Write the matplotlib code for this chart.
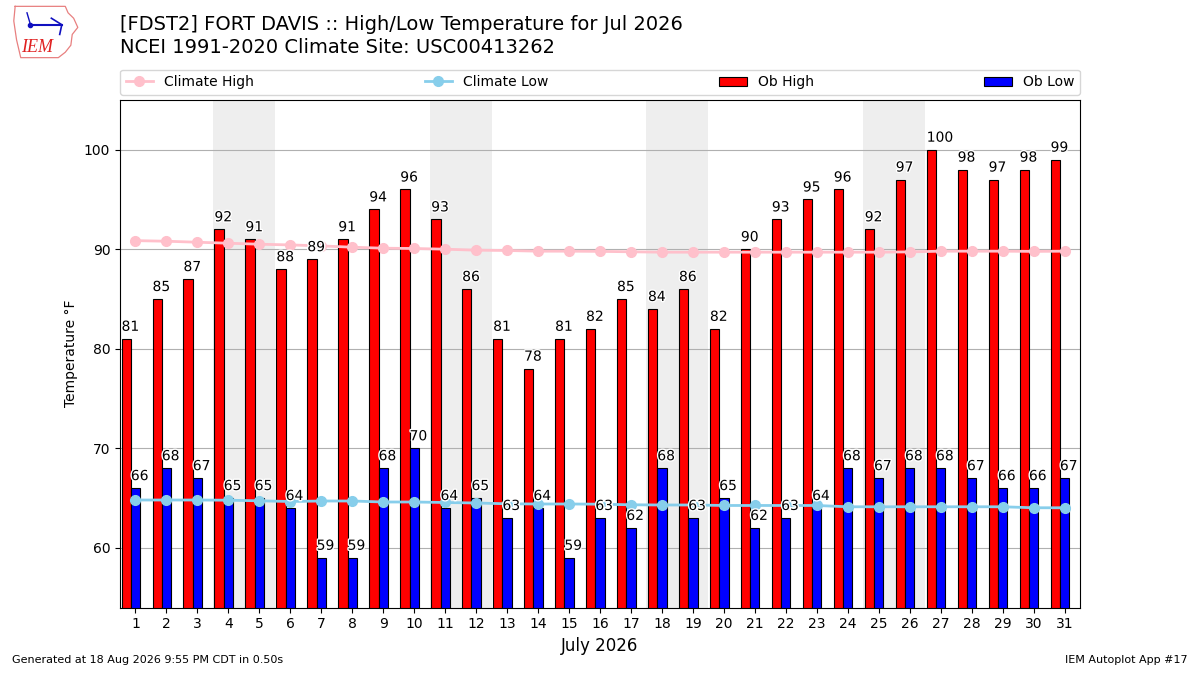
import matplotlib
matplotlib.use("Agg")
import matplotlib.pyplot as plt
import matplotlib.patheffects as pe
import numpy as np
import datetime

days = list(range(1, 32))
ob_high = [81, 85, 87, 92, 91, 88, 89, 91, 94, 96, 93, 86, 81, 78, 81, 82,
           85, 84, 86, 82, 90, 93, 95, 96, 92, 97, 100, 98, 97, 98, 99]
ob_low = [66, 68, 67, 65, 65, 64, 59, 59, 68, 70, 64, 65, 63, 64, 59, 63,
          62, 68, 63, 65, 62, 63, 64, 68, 67, 68, 68, 67, 66, 66, 67]
clim_high = [90.86, 90.8, 90.7, 90.6, 90.5, 90.43, 90.33, 90.2, 90.1, 90.07,
             90.0, 89.9, 89.87, 89.8, 89.8, 89.78, 89.74, 89.7, 89.7, 89.7,
             89.7, 89.7, 89.7, 89.7, 89.7, 89.73, 89.8, 89.8, 89.8, 89.78, 89.8]
clim_low = [64.8, 64.8, 64.8, 64.78, 64.72, 64.65, 64.7, 64.7, 64.6, 64.6,
            64.55, 64.5, 64.42, 64.4, 64.4, 64.38, 64.32, 64.3, 64.3, 64.25,
            64.25, 64.25, 64.25, 64.12, 64.12, 64.12, 64.12, 64.12, 64.12,
            64.02, 64.02]
year, month = 2026, 7

fig = plt.figure(figsize=(12, 6.75), dpi=100)
ax = fig.add_axes([0.1, 0.1, 0.8, 0.752])

x = np.array(days)
# weekend shading
for d in days:
    if datetime.date(year, month, d).weekday() >= 5:
        ax.axvspan(d - 0.5, d + 0.5, color="#EEEEEE", zorder=0, lw=0)

ax.bar(x - 0.3, ob_high, width=0.3, color="red", edgecolor="black",
       linewidth=0.8, label="Ob High", zorder=2)
ax.bar(x, ob_low, width=0.3, color="blue", edgecolor="black",
       linewidth=0.8, label="Ob Low", zorder=2)
ax.plot(x, clim_high, color="pink", marker="o", lw=2, ms=7,
        label="Climate High", zorder=3)
ax.plot(x, clim_low, color="skyblue", marker="o", lw=2, ms=7,
        label="Climate Low", zorder=3)

stroke = [pe.withStroke(linewidth=2, foreground="white")]
for d, v in zip(x, ob_high):
    ax.text(d - 0.45, v + 0.5, f"{v}", ha="left", va="bottom", fontsize=10,
            zorder=4, path_effects=stroke)
for d, v in zip(x, ob_low):
    ax.text(d - 0.15, v + 0.5, f"{v}", ha="left", va="bottom", fontsize=10,
            zorder=4, path_effects=stroke)

ax.set_xlim(0.5, 31.5)
ax.set_ylim(min(ob_low) - 5, max(ob_high) + 5)
ax.set_xticks(days)
ax.set_xticklabels([str(d) for d in days], fontsize=10)
ax.set_yticks([60, 70, 80, 90, 100])
ax.grid(axis="y", color="#b0b0b0", lw=0.8)
ax.set_axisbelow(True)
ax.set_ylabel("Temperature °F", fontsize=10)
ax.set_xlabel("July 2026", fontsize=12)

handles, labels = ax.get_legend_handles_labels()
order = [labels.index(n) for n in ["Climate High", "Climate Low", "Ob High", "Ob Low"]]
ax.legend([handles[i] for i in order], [labels[i] for i in order],
          loc="lower left", bbox_to_anchor=(0.0, 1.01, 1.0, 0.05),
          mode="expand", ncol=4, borderaxespad=0, fontsize=10)

fig.text(0.1, 0.978, "[FDST2] FORT DAVIS :: High/Low Temperature for Jul 2026\n"
         "NCEI 1991-2020 Climate Site: USC00413262",
         ha="left", va="top", fontsize=14, linespacing=1.3)
fig.text(0.01, 0.015, "Generated at 18 Aug 2026 9:55 PM CDT in 0.50s",
         ha="left", va="bottom", fontsize=8)
fig.text(0.99, 0.015, "IEM Autoplot App #17", ha="right", va="bottom",
         fontsize=8)

# simple IEM logo
lax = fig.add_axes([0.008, 0.913, 0.058, 0.08])
lax.set_xlim(0, 1)
lax.set_ylim(0, 1)
lax.axis("off")
outline_x = [0.08, 0.80, 0.84, 0.92, 0.98, 0.90, 0.88, 0.80, 0.70, 0.16, 0.10, 0.06, 0.08]
outline_y = [0.97, 0.97, 0.85, 0.75, 0.58, 0.45, 0.25, 0.12, 0.02, 0.02, 0.35, 0.70, 0.97]
lax.plot(outline_x, outline_y, color="#e88080", lw=0.9)
lax.plot([0.3, 0.75], [0.63, 0.63], color="#1010c0", lw=1.5)
lax.plot([0.6, 0.75, 0.72], [0.75, 0.63, 0.45], color="#1010c0", lw=1.2)
lax.plot([0.3, 0.25], [0.63, 0.85], color="#1010c0", lw=1.0)
lax.plot([0.3], [0.63], "o", color="#1010c0", ms=3)
lax.text(0.4, 0.2, "IEM", color="#e02020", fontsize=13, style="italic",
         family="Liberation Serif", ha="center", va="center")

fig.savefig("out.png", dpi=100)
